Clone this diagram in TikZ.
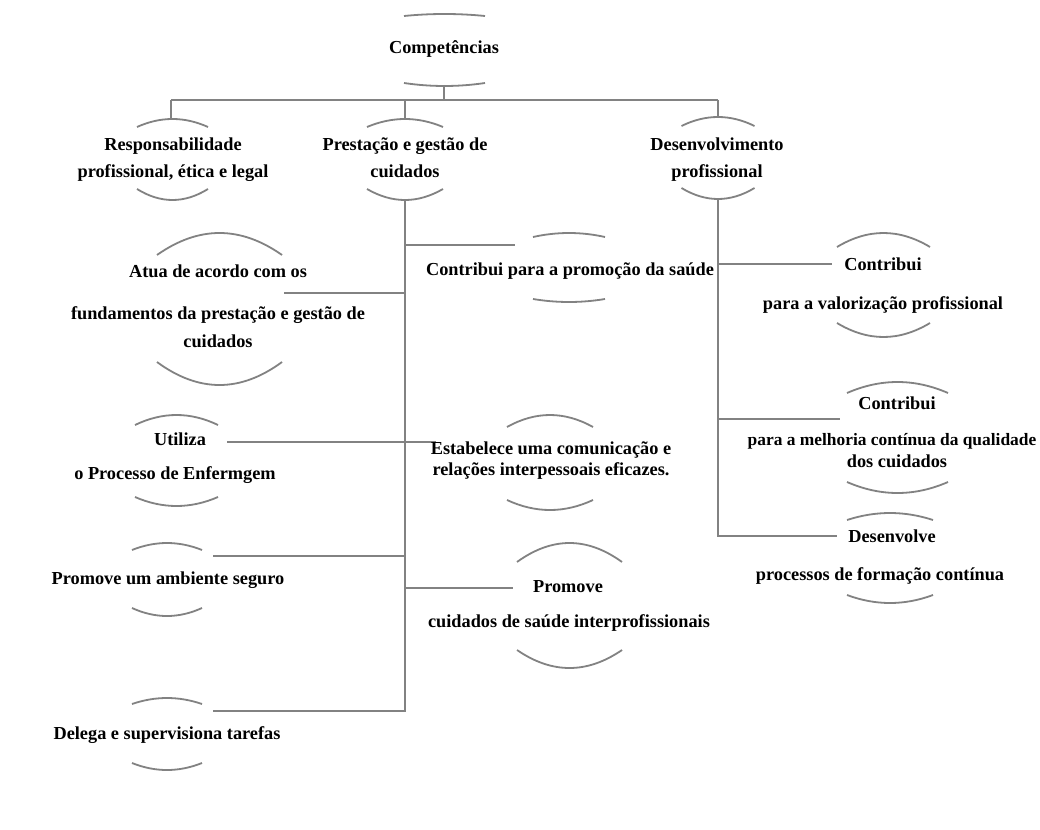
\documentclass[tikz,border=0pt]{standalone}
\usepackage{fontspec}
\setmainfont{Liberation Serif}
\definecolor{linegray}{RGB}{130,130,130}
% top and bottom rims of an oval frame: centre x, half width,
% top rim end y, top rim middle y, bottom rim end y, bottom rim middle y
\newcommand\ovalrims[6]{%
  \draw[rim] ({#1-#2},#3) .. controls ({#1-#2/3},{#3+4/3*(#4-#3)}) and ({#1+#2/3},{#3+4/3*(#4-#3)}) .. ({#1+#2},#3);
  \draw[rim] ({#1-#2},#5) .. controls ({#1-#2/3},{#5+4/3*(#6-#5)}) and ({#1+#2/3},{#5+4/3*(#6-#5)}) .. ({#1+#2},#5);}
\begin{document}
\begin{tikzpicture}[x=1pt,y=-1pt,
  lbl/.style={font=\bfseries\fontsize{18.3}{21}\selectfont, anchor=base, inner sep=0pt, yshift=-2pt},
  narrowlbl/.style={lbl, font=\bfseries\fontsize{17.4}{21}\selectfont},
  link/.style={draw=linegray, line width=2pt},
  rim/.style={draw=linegray, line width=1.8pt}]
\useasboundingbox[fill=white] (0,0) rectangle (1040,829);

% ---- junction points of the tree ----
\coordinate (compB) at (444,85);
\coordinate (j0) at (444,100);
\coordinate (jr) at (171,100);
\coordinate (jp) at (405,100);
\coordinate (jd) at (718,100);
\coordinate (respT) at (171,119);
\coordinate (prestT) at (405,119);
\coordinate (desenT) at (718,118);
\coordinate (prestB) at (405,200);
\coordinate (desenB) at (718,200);
% free ends of the branch connectors
\coordinate (atuaR) at (284,293);
\coordinate (utilR) at (227,442);
\coordinate (promR) at (213,556);
\coordinate (delegR) at (213,711);
\coordinate (contrL) at (515,245);
\coordinate (estabL) at (436,442);
\coordinate (promcL) at (513,588);
\coordinate (c1L) at (832,264);
\coordinate (c2L) at (840,419);
\coordinate (dvL) at (837,536);

% ---- connectors ----
\draw[link] (compB) -- (j0);
\draw[link] (jr) -- (jd);
\draw[link] (jr) -- (respT);
\draw[link] (jp) -- (prestT);
\draw[link] (jd) -- (desenT);
\draw[link] (prestB) |- (delegR);
\draw[link] (desenB) |- (dvL);
\draw[link] (atuaR) -- (atuaR -| prestB);
\draw[link] (utilR) -- (utilR -| prestB);
\draw[link] (promR) -- (promR -| prestB);
\draw[link] (contrL -| prestB) -- (contrL);
\draw[link] (estabL -| prestB) -- (estabL);
\draw[link] (promcL -| prestB) -- (promcL);
\draw[link] (c1L -| desenB) -- (c1L);
\draw[link] (c2L -| desenB) -- (c2L);

% ---- oval rims ----
\ovalrims{444.5}{40.5}{16}{14}{83}{86}
\ovalrims{172.5}{35.5}{127}{119}{189}{200}
\ovalrims{405}{38}{127}{119}{189}{200}
\ovalrims{718}{36.5}{126}{117}{188}{199}
\ovalrims{219.5}{62.5}{255}{233}{362}{385}
\ovalrims{569}{36}{237}{233}{299}{302}
\ovalrims{176.5}{41.5}{425}{415}{497}{506}
\ovalrims{550}{43}{427}{415}{500}{510}
\ovalrims{167}{35}{550}{543}{608}{616}
\ovalrims{167}{35}{704}{698}{763}{770}
\ovalrims{569.5}{52.5}{562}{543}{650}{668}
\ovalrims{883.5}{46.5}{247}{233}{323}{337}
\ovalrims{897.5}{50.5}{393}{382}{482}{493}
\ovalrims{890}{43}{520}{513}{595}{603}

% ---- texts ----
\node[lbl] (comp) at (444,52) {Competências};
\node[lbl] (resp1) at (173,148) {Responsabilidade};
\node[lbl] (resp2) at (173,175) {profissional, ética e legal};
\node[lbl] (prest1) at (405,148) {Prestação e gestão de};
\node[lbl] (prest2) at (405,175) {cuidados};
\node[lbl] (desen1) at (717,148) {Desenvolvimento};
\node[lbl] (desen2) at (717,175) {profissional};
\node[lbl] (atua1) at (218,275) {Atua de acordo com os};
\node[lbl] (atua2) at (218,317) {fundamentos da prestação e gestão de};
\node[lbl] (atua3) at (218,345) {cuidados};
\node[lbl] (contr) at (570,273) {Contribui para a promoção da saúde};
\node[lbl] (util1) at (180,443) {Utiliza};
\node[lbl] (util2) at (175,477) {o Processo de Enfermgem};
\node[lbl] (estab1) at (551,452) {Estabelece uma comunicação e};
\node[lbl] (estab2) at (551,473) {relações interpessoais eficazes.};
\node[lbl] (prom) at (168,582) {Promove um ambiente seguro};
\node[lbl] (deleg) at (167,737) {Delega e supervisiona tarefas};
\node[lbl] (promc1) at (568,590) {Promove};
\node[lbl] (promc2) at (569,625) {cuidados de saúde interprofissionais};
\node[lbl] (c1a) at (883,268) {Contribui};
\node[lbl] (c1b) at (883,307) {para a valorização profissional};
\node[lbl] (c2a) at (897,407) {Contribui};
\node[narrowlbl] (c2b) at (892,443) {para a melhoria contínua da qualidade};
\node[lbl] (c2c) at (897,465) {dos cuidados};
\node[lbl] (dv1) at (892,540) {Desenvolve};
\node[lbl] (dv2) at (880,578) {processos de formação contínua};
\end{tikzpicture}
\end{document}
